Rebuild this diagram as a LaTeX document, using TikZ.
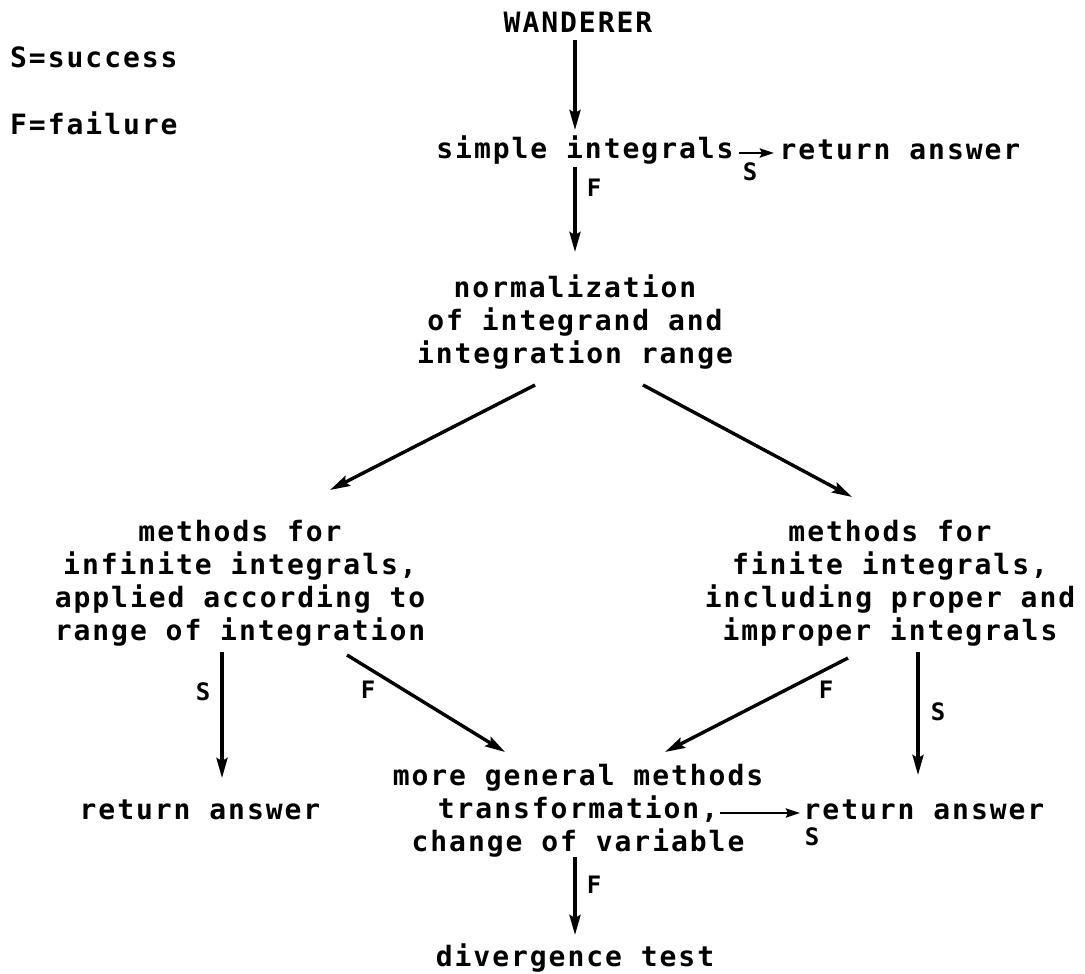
\documentclass[tikz,border=0pt]{standalone}
\usepackage{fontspec}
\setmonofont{DejaVu Sans Mono}[LetterSpace=7]
\usetikzlibrary{arrows.meta,calc}
\begin{document}
\begin{tikzpicture}[x=1pt,y=-1pt,
  txt/.style={font=\ttfamily\bfseries\fontsize{28}{33}\selectfont, inner sep=0pt, align=center},
  lbl/.style={font=\ttfamily\bfseries\fontsize{24}{26}\selectfont, inner sep=0pt},
  arr/.style={line width=3.4pt, -{Stealth[length=20pt,width=11pt,inset=3pt]}},
  sarr/.style={line width=2.8pt, -{Stealth[length=14pt,width=9pt,inset=2pt]}}]
\useasboundingbox (0,0) rectangle (1085,974);
\fill[white] (0,0) rectangle (1085,974);
% legend
\node[txt, anchor=west] (leg1) at (10,57) {S=success};
\node[txt, anchor=west] (leg2) at (10,123) {F=failure};
% nodes
\node[txt] (wand) at (578,22) {WANDERER};
\node[txt] (simple) at (585,150) {simple integrals};
\node[txt] (ret1) at (900,150) {return answer};
\node[txt] (norm) at (575,322) {normalization\\of integrand and\\integration range};
\node[txt] (left) at (240,583) {methods for\\infinite integrals,\\applied according to\\range of integration};
\node[txt] (right) at (890,583) {methods for\\finite integrals,\\including proper and\\improper integrals};
\node[txt] (ret2) at (200,810) {return answer};
\node[txt] (mid) at (578,811) {more general methods\\transformation,\\change of variable};
\node[txt] (ret3) at (924,810) {return answer};
\node[txt] (div) at (575,958) {divergence test};
% connectors
\draw[arr] ($(wand.center)+(-3,18)$) -- ($(simple.center)+(-10,-20)$);
\draw[sarr] ($(simple.center)+(154,3)$) -- ($(ret1.center)+(-126,3)$);
\draw[arr] ($(simple.center)+(-10,17)$) -- ($(norm.center)+(0,-70)$);
\draw[arr] ($(norm.center)+(-40,63)$) -- ($(left.center)+(90,-93)$);
\draw[arr] ($(norm.center)+(68,63)$) -- ($(right.center)+(-38,-86)$);
\draw[arr] ($(left.center)+(-18,69)$) -- ($(ret2.center)+(22,-32)$);
\draw[arr] ($(left.center)+(107,72)$) -- ($(mid.center)+(-73,-59)$);
\draw[arr] ($(right.center)+(-42,75)$) -- ($(mid.center)+(87,-59)$);
\draw[arr] ($(right.center)+(28,69)$) -- ($(ret3.center)+(-6,-35)$);
\draw[sarr] ($(mid.center)+(142,2)$) -- ($(ret3.center)+(-124,3)$);
\draw[arr] ($(mid.center)+(-3,46)$) -- ($(div.center)+(0,-23)$);
% labels
\node[lbl] (s1) at (750,172) {S};
\node[lbl] (f1) at (594,188) {F};
\node[lbl] (s2) at (203,692) {S};
\node[lbl] (f2) at (368,690) {F};
\node[lbl] (f3) at (826,690) {F};
\node[lbl] (s3) at (938,712) {S};
\node[lbl] (s4) at (812,837) {S};
\node[lbl] (f4) at (594,885) {F};
\end{tikzpicture}
\end{document}
